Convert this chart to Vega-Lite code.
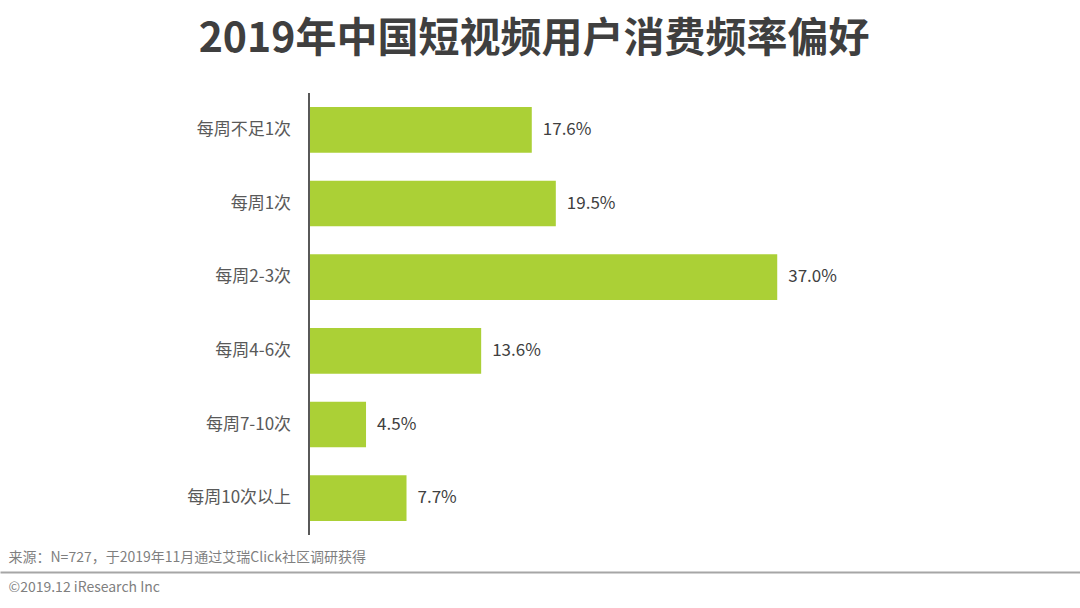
{
  "$schema": "https://vega.github.io/schema/vega-lite/v6.json",
  "autosize": "none",
  "width": 1080,
  "height": 442,
  "padding": {"left": 0, "right": 0, "top": 93, "bottom": 73},
  "background": "white",
  "config": {
    "view": {"stroke": null},
    "font": "Noto Sans CJK SC"
  },
  "title": {
    "text": "2019年中国短视频用户消费频率偏好",
    "orient": "top",
    "anchor": "middle",
    "frame": "group",
    "dx": -6,
    "offset": 31,
    "fontSize": 41,
    "fontWeight": "bold",
    "color": "#3f3f3f",
    "font": "Noto Sans CJK SC"
  },
  "data": {
    "values": [
      {"category": "每周不足1次", "share": 0.176},
      {"category": "每周1次", "share": 0.195},
      {"category": "每周2-3次", "share": 0.370},
      {"category": "每周4-6次", "share": 0.136},
      {"category": "每周7-10次", "share": 0.045},
      {"category": "每周10次以上", "share": 0.077}
    ]
  },
  "encoding": {
    "y": {
      "field": "category",
      "type": "nominal",
      "sort": null,
      "scale": {"paddingInner": 0.38, "paddingOuter": 0.19},
      "axis": {
        "labels": false,
        "ticks": false,
        "domain": false,
        "grid": false,
        "title": "©2019.12 iResearch Inc",
        "titleAngle": 0,
        "titleX": 8,
        "titleY": 494,
        "titleAlign": "left",
        "titleBaseline": "middle",
        "titleFontSize": 14,
        "titleFontWeight": "normal",
        "titleColor": "#7f7f7f",
        "titleFont": "Noto Sans CJK SC"
      }
    }
  },
  "layer": [
    {
      "mark": {"type": "bar", "color": "#abd036"},
      "encoding": {
        "x": {
          "field": "share",
          "type": "quantitative",
          "scale": {"domain": [-0.2443, 0.6093], "nice": false, "zero": false},
          "axis": {
            "labels": false,
            "ticks": false,
            "grid": false,
            "domain": true,
            "domainColor": "#a6a6a6",
            "domainWidth": 2,
            "offset": 37,
            "title": "来源：N=727，于2019年11月通过艾瑞Click社区调研获得",
            "titleX": 8,
            "titleY": -15,
            "titleAlign": "left",
            "titleBaseline": "middle",
            "titleFontSize": 14,
            "titleFontWeight": "normal",
            "titleColor": "#7f7f7f",
            "titleFont": "Noto Sans CJK SC"
          }
        }
      }
    },
    {
      "mark": {"type": "text", "align": "left", "baseline": "middle", "dx": 11, "fontSize": 17, "color": "#404040"},
      "encoding": {
        "x": {"field": "share", "type": "quantitative"},
        "text": {"field": "share", "type": "quantitative", "format": ".1%"}
      }
    },
    {
      "mark": {"type": "text", "align": "right", "baseline": "middle", "dx": -18, "fontSize": 17, "color": "#595959"},
      "encoding": {
        "x": {"datum": 0},
        "text": {"field": "category", "type": "nominal"}
      }
    },
    {
      "mark": {"type": "rule", "color": "#595959", "strokeWidth": 1.5},
      "encoding": {
        "x": {"datum": 0},
        "y": null
      }
    }
  ]
}
